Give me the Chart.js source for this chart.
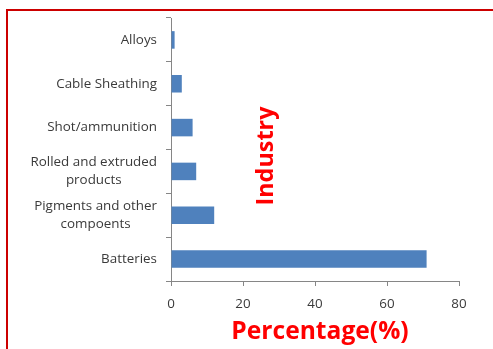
<!DOCTYPE html>
<html>
<head>
<meta charset="utf-8">
<script src="https://cdn.jsdelivr.net/npm/chart.js@4"></script>
<style>
  html, body { margin: 0; padding: 0; background: #ffffff; }
  #wrap { position: relative; width: 493px; height: 349px; }
</style>
</head>
<body>
<div id="wrap"><canvas id="chart" width="493" height="349"></canvas></div>
<script>
// Uses of lead by industry (share, %)
const categories = [
  'Alloys',
  'Cable Sheathing',
  'Shot/ammunition',
  ['Rolled and extruded', 'products'],
  ['Pigments and other', 'compoents'],
  'Batteries'
];
const percentages = [1, 3, 6, 7, 12, 71];
const xTicks = [0, 20, 40, 60, 80];
const yTitle = 'Industry';
const xTitle = 'Percentage(%)';

const AXIS_GREY = '#868686';
const LABEL_GREY = '#3a3a3a';
const TITLE_RED = '#ff0000';
const FRAME_RED = '#cc0000';
const LABEL_FONT = '13.4px "Open Sans"';

// Category labels: the block is right-aligned to the axis, each line centred in it
const categoryLabels = {
  id: 'categoryLabels',
  afterDraw(chart) {
    const ctx = chart.ctx;
    const y = chart.scales.y;
    const right = y.right - 14;
    const lineH = 17.5;
    ctx.save();
    ctx.font = LABEL_FONT;
    ctx.fillStyle = LABEL_GREY;
    ctx.textAlign = 'center';
    ctx.textBaseline = 'middle';
    categories.forEach((lab, i) => {
      const lines = Array.isArray(lab) ? lab : [lab];
      const w = Math.max(...lines.map(l => ctx.measureText(l).width));
      const cx = right - w / 2;
      const cy = y.getPixelForValue(i);
      lines.forEach((l, k) => {
        ctx.fillText(l, cx, cy + (k - (lines.length - 1) / 2) * lineH);
      });
    });
    ctx.restore();
  }
};

// Red frame, plus the two axis titles placed where they sit in this layout
const decorations = {
  id: 'decorations',
  afterDraw(chart) {
    const ctx = chart.ctx;
    const area = chart.chartArea;
    ctx.save();
    ctx.strokeStyle = FRAME_RED;
    ctx.lineWidth = 2;
    ctx.beginPath();
    ctx.moveTo(7, 349);
    ctx.lineTo(7, 10);
    ctx.lineTo(493, 10);
    ctx.stroke();

    ctx.fillStyle = TITLE_RED;
    ctx.font = 'bold 24.6px "Open Sans"';
    ctx.textAlign = 'center';
    ctx.textBaseline = 'middle';
    ctx.fillText(xTitle, (area.left + area.right) / 2 + 5, 332);

    ctx.font = 'bold 23.4px "Open Sans"';
    ctx.translate(266, 156);
    ctx.rotate(-Math.PI / 2);
    ctx.fillText(yTitle, 0, 0);
    ctx.restore();
  }
};

new Chart(document.getElementById('chart'), {
  type: 'bar',
  data: {
    labels: categories,
    datasets: [{
      data: percentages,
      backgroundColor: '#4f81bd',
      borderWidth: 0,
      barPercentage: 0.4,
      categoryPercentage: 1.0
    }]
  },
  options: {
    indexAxis: 'y',
    responsive: false,
    animation: false,
    layout: { padding: { left: 0, top: 18, right: 34, bottom: 0 } },
    plugins: {
      legend: { display: false },
      tooltip: { enabled: false }
    },
    scales: {
      x: {
        min: 0,
        max: 80,
        afterBuildTicks(scale) { scale.ticks = xTicks.map(v => ({ value: v })); },
        afterFit(scale) { scale.height = 68; },
        border: { color: AXIS_GREY, width: 1 },
        grid: { drawOnChartArea: false, tickLength: 5, color: AXIS_GREY },
        ticks: { color: LABEL_GREY, padding: 10, font: { family: 'Open Sans', size: 13.4 } }
      },
      y: {
        afterFit(scale) { scale.width = 171; },
        border: { color: AXIS_GREY, width: 1 },
        grid: { drawOnChartArea: false, tickLength: 5, color: AXIS_GREY, offset: true },
        ticks: { display: false }
      }
    }
  },
  plugins: [categoryLabels, decorations]
});
</script>
</body>
</html>
